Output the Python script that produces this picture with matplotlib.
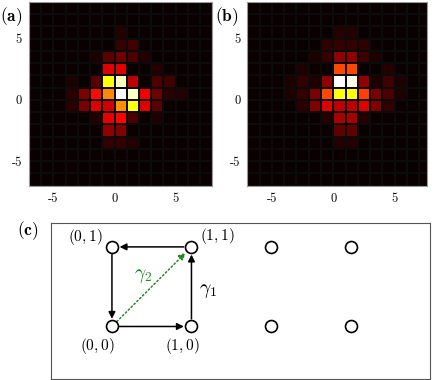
import numpy as np
import matplotlib
matplotlib.use('Agg')
import matplotlib.pyplot as plt

plt.rcParams['font.family'] = 'serif'
plt.rcParams['font.serif'] = ['cmr10']
plt.rcParams['mathtext.fontset'] = 'cm'
plt.rcParams['axes.unicode_minus'] = False

# heat maps: block of cells, rows y0 = 5 .. -4 (top to bottom), cols x0 = -4 .. 5
block_cols = np.arange(-4, 6)
block_rows = np.arange(5, -5, -1)

vals_a = [
    [0, 0, 0, 0, 0.04, 0, 0, 0, 0, 0],
    [0, 0, 0, 0, 0.07, 0.08, 0, 0, 0, 0],
    [0, 0, 0.03, 0.12, 0.15, 0.10, 0.04, 0, 0, 0],
    [0, 0, 0, 0.32, 0.32, 0, 0, 0.04, 0, 0],
    [0.03, 0, 0.12, 0.75, 0.94, 0.27, 0, 0.10, 0.08, 0],
    [0.05, 0.17, 0.38, 0.57, 1.0, 0.94, 0.35, 0.15, 0.05, 0.04],
    [0.05, 0.17, 0.32, 0.30, 0.58, 0.76, 0.32, 0.12, 0, 0],
    [0, 0, 0.04, 0.33, 0.37, 0.10, 0, 0.03, 0, 0],
    [0, 0, 0, 0.20, 0.18, 0, 0, 0, 0, 0],
    [0, 0, 0, 0.06, 0.07, 0.04, 0, 0, 0, 0],
]
vals_b = [
    [0, 0, 0, 0, 0.04, 0.04, 0, 0, 0, 0],
    [0, 0, 0, 0.06, 0.07, 0.07, 0.06, 0, 0, 0],
    [0, 0, 0.03, 0.07, 0.20, 0.20, 0.08, 0.03, 0, 0],
    [0, 0.03, 0, 0, 0.47, 0.47, 0, 0, 0.04, 0],
    [0.03, 0.06, 0.03, 0.20, 1.0, 0.98, 0.20, 0.03, 0.08, 0.03],
    [0.03, 0.07, 0.17, 0.47, 0.75, 0.75, 0.46, 0.17, 0.10, 0.03],
    [0, 0.05, 0.18, 0.32, 0.27, 0.27, 0.32, 0.18, 0.06, 0],
    [0, 0, 0, 0.04, 0.24, 0.24, 0.04, 0, 0, 0],
    [0, 0, 0, 0, 0.13, 0.13, 0, 0, 0, 0],
    [0, 0, 0, 0, 0.04, 0.04, 0, 0, 0, 0],
]
ticks = [-5, 0, 5]
tick_labels = ['-5', '0', '5']

# lattice
node_x = [0, 1, 2, 3, 0, 1, 2, 3]
node_y = [0, 0, 0, 0, 1, 1, 1, 1]
loop = [(1, 1), (0, 1), (0, 0), (1, 0), (1, 1)]
node_labels = {'(0,1)': (0, 1), '(1,1)': (1, 1), '(0,0)': (0, 0), '(1,0)': (1, 0)}

edges = np.arange(-7, 9)

def full_grid(vals):
    g = np.zeros((15, 15))
    for i, yy in enumerate(block_rows):
        for j, xx in enumerate(block_cols):
            g[yy + 7, xx + 7] = vals[i][j]
    return g

fig = plt.figure(figsize=(4.36, 3.80), dpi=100)

def heat(rect, vals, xmax):
    ax = fig.add_axes(rect)
    ax.pcolormesh(edges, edges, full_grid(vals), cmap='hot', vmin=0, vmax=1,
                  edgecolors=(0.045, 0.045, 0.045), linewidth=0.3)
    ax.set_xlim(-7, xmax)
    ax.set_ylim(-7, 8)
    ax.set_xticks(ticks)
    ax.set_xticklabels(tick_labels)
    ax.set_yticks(ticks)
    ax.set_yticklabels(tick_labels)
    ax.tick_params(length=0, labelsize=9, pad=5)
    for s in ax.spines.values():
        s.set_color('#999999')
        s.set_linewidth(0.8)
    return ax

ax_a = heat([0.0665, 0.5113, 0.4205, 0.4842], vals_a, 8)
ax_b = heat([0.5672, 0.5113, 0.4128, 0.4842], vals_b, 7.65)

fig.text(0.0, 0.985, r'$\mathbf{(a)}$', fontsize=12.5, va='top', ha='left')
fig.text(0.493, 0.985, r'$\mathbf{(b)}$', fontsize=12.5, va='top', ha='left')
fig.text(0.04, 0.393, r'$\mathbf{(c)}$', fontsize=12.5, va='center', ha='left')

# panel c
ax_c = fig.add_axes([0.1163, 0.0026, 0.87, 0.4105])
ax_c.set_xlim(-0.77, 4.0)
ax_c.set_ylim(-0.66, 1.3)
ax_c.set_xticks([])
ax_c.set_yticks([])
for s in ax_c.spines.values():
    s.set_color('#555555')
    s.set_linewidth(0.8)

for p, q in zip(loop[:-1], loop[1:]):
    ax_c.annotate('', xy=q, xytext=p,
                  arrowprops=dict(arrowstyle='-|>', color='black', lw=1.1,
                                  mutation_scale=10, shrinkA=5.5, shrinkB=5.5))
ax_c.annotate('', xy=(1, 1), xytext=(0, 0),
              arrowprops=dict(arrowstyle='-|>', color='#1e8a1e', lw=1.1, ls=':',
                              mutation_scale=10, shrinkA=5, shrinkB=6))

ax_c.plot(node_x, node_y, 'o', ms=8.6, mfc='white', mec='black', mew=1.2, zorder=5)

ax_c.text(0.39, 0.63, r'$\gamma_2$', color='#1e8a1e', fontsize=14, ha='center', va='center')
ax_c.text(1.21, 0.45, r'$\gamma_1$', color='black', fontsize=14, ha='center', va='center')

offsets = {'(0,1)': (-0.33, 0.12), '(1,1)': (0.33, 0.14), '(0,0)': (-0.19, -0.25), '(1,0)': (-0.12, -0.25)}
for lab, (x, y) in node_labels.items():
    dx, dy = offsets[lab]
    ax_c.text(x + dx, y + dy, '$' + lab.replace(',', ', ') + '$', fontsize=11,
              ha='center', va='center')

fig.savefig('out.png', dpi=100)
